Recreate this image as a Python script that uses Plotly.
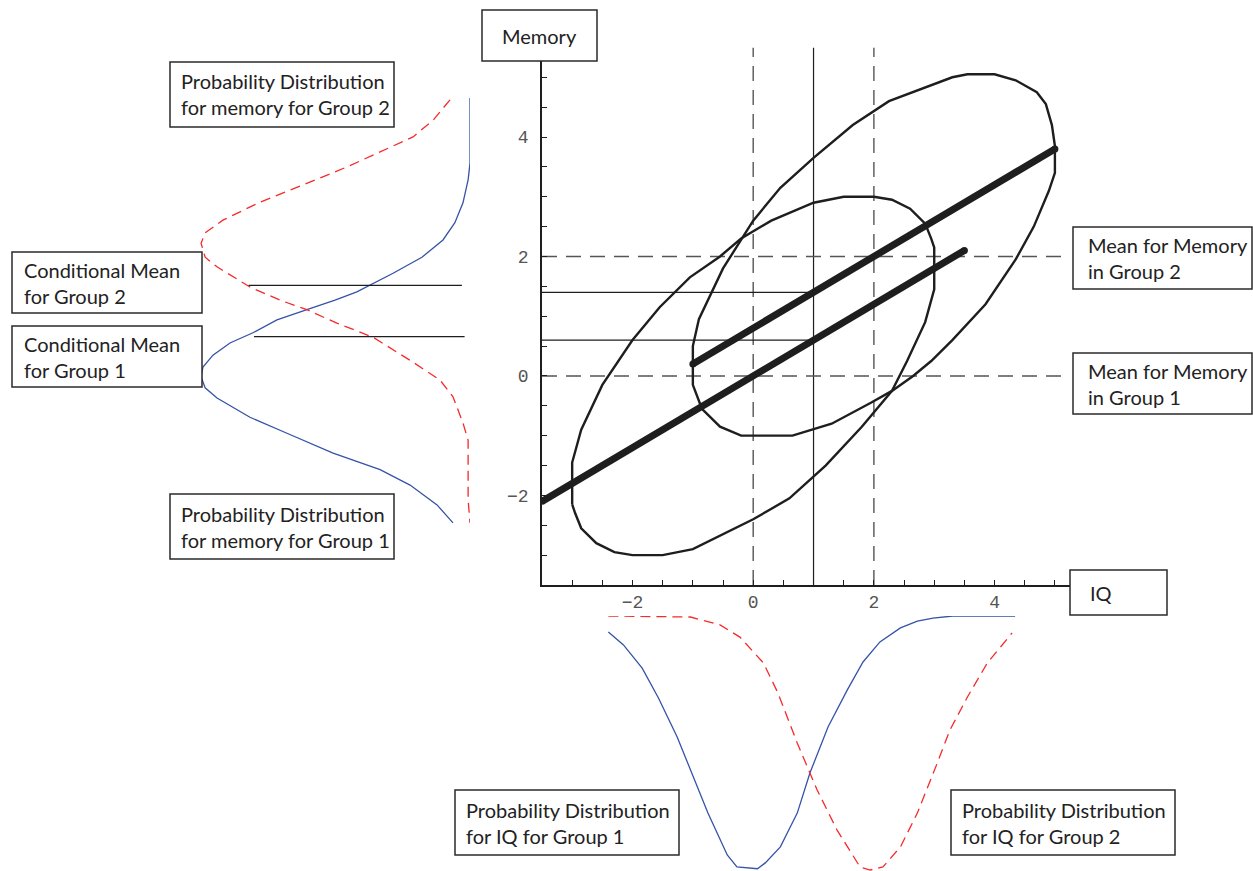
import plotly.graph_objects as go

W, H = 1253, 871

# group means, regression line, conditional means
iq_means = [0, 2]
memory_means = [0, 2]
iq_given = 1
cond_means = [0.6, 1.4]

# regression lines (IQ start/end, memory start/end)
reg1_iq = [-3.5, 3.5]
reg1_mem = [-2.1, 2.1]
reg2_iq = [-1.0, 5.0]
reg2_mem = [0.2, 3.8]

# contour of group 1 (centred on 0,0)
g1_iq = [-3.0, -3.0, -2.85, -2.5, -2.0, -1.55, -1.05, -0.55, -0.2, 0.3, 1.0, 1.5, 2.0, 2.3,
         2.6, 2.85, 2.95, 3.0, 3.0, 2.85, 2.55, 2.3, 1.8, 1.2, 0.6, 0.0, -1.0, -1.5, -2.0,
         -2.3, -2.6, -2.85, -2.95, -3.0]
g1_mem = [-2.15, -1.45, -0.9, -0.15, 0.6, 1.15, 1.65, 2.0, 2.3, 2.6, 2.9, 3.0, 3.0, 2.95,
          2.8, 2.55, 2.3, 2.15, 1.45, 0.9, 0.25, -0.25, -0.85, -1.5, -2.05, -2.4, -2.9, -3.0,
          -3.0, -2.95, -2.8, -2.55, -2.3, -2.15]

# contour of group 2 (centred on 2,2)
g2_iq = [-1.0, -1.0, -0.9, -0.5, 0.0, 0.45, 1.0, 1.65, 2.25, 2.9, 3.3, 3.55, 4.0, 4.35,
         4.7, 4.85, 4.95, 5.0, 5.0, 4.9, 4.65, 4.35, 3.85, 3.3, 2.95, 2.65, 2.3, 1.95, 1.3,
         0.65, 0.1, -0.2, -0.55, -0.85, -1.0]
g2_mem = [-0.15, 0.5, 0.95, 1.8, 2.6, 3.15, 3.65, 4.2, 4.6, 4.85, 5.0, 5.05, 5.05, 4.95,
          4.75, 4.55, 4.2, 3.85, 3.4, 3.1, 2.5, 1.95, 1.2, 0.6, 0.25, 0.0, -0.25, -0.45, -0.8,
          -1.0, -1.0, -1.0, -0.85, -0.55, -0.15]

# memory densities (left panel): density, memory
mem_g1_dens = [0, 0, 0.007, 0.026, 0.056, 0.1, 0.178, 0.285, 0.419, 0.5, 0.604, 0.715, 0.804,
               0.889, 0.952, 0.989, 0.996, 0.981, 0.937, 0.815, 0.678, 0.507, 0.333, 0.222,
               0.122, 0.063]
mem_g1_val = [4.33, 3.31, 3.05, 2.69, 2.38, 2.11, 1.84, 1.59, 1.3, 1.17, 1.02, 0.86, 0.66, 0.5,
              0.31, 0.125, -0.03, -0.2, -0.36, -0.66, -0.91, -1.22, -1.48, -1.72, -2.03, -2.31]
mem_g2_dens = [0.074, 0.137, 0.211, 0.315, 0.456, 0.619, 0.778, 0.915, 0.981, 0.996, 0.981,
               0.937, 0.815, 0.704, 0.604, 0.493, 0.359, 0.211, 0.111, 0.063, 0.026, 0.007,
               0.007, 0]
mem_g2_val = [4.3, 3.98, 3.72, 3.52, 3.25, 2.97, 2.7, 2.42, 2.22, 2.06, 1.84, 1.69, 1.375, 1.17,
              1.02, 0.81, 0.59, 0.2, -0.08, -0.34, -0.75, -1.02, -1.95, -2.31]
cond_line_dens = [[0.80, 0.02], [0.82, 0.03]]

# IQ densities (bottom panel): IQ, density
iq_g1_val = [-2.4, -2.15, -1.84, -1.57, -1.26, -1.04, -0.75, -0.43, -0.27, 0.07, 0.2, 0.45,
             0.73, 0.94, 1.24, 1.56, 1.82, 2.1, 2.44, 2.72, 2.98, 3.31, 4.34]
iq_g1_dens = [0.063, 0.114, 0.205, 0.323, 0.476, 0.606, 0.776, 0.941, 0.988, 0.995, 0.972,
              0.909, 0.776, 0.618, 0.437, 0.291, 0.181, 0.102, 0.047, 0.02, 0.008, 0, 0]
iq_g2_val = [-2.4, -1.04, -0.55, -0.22, 0.17, 0.41, 0.73, 1.06, 1.39, 1.77, 1.94, 2.15, 2.44,
             2.72, 3.05, 3.26, 3.55, 3.88, 4.29]
iq_g2_dens = [0, 0.004, 0.035, 0.083, 0.185, 0.303, 0.5, 0.685, 0.843, 0.988, 1.0, 0.988,
              0.909, 0.776, 0.579, 0.449, 0.319, 0.185, 0.067]

# text boxes: x0, y0, x1, y1 (px), text x (px), text
boxes = [
    (482, 10, 597, 61, 500, "Memory"),
    (170, 62, 394, 127, 179, "Probability Distribution<br>for memory for Group 2"),
    (12, 252, 202, 313, 22, "Conditional Mean<br>for Group 2"),
    (12, 326, 202, 387, 22, "Conditional Mean<br>for Group 1"),
    (170, 494, 394, 559, 179, "Probability Distribution<br>for memory for Group 1"),
    (1073, 227, 1252, 289, 1086, "Mean for Memory<br>in Group 2"),
    (1073, 353, 1252, 414, 1086, "Mean for Memory<br>in Group 1"),
    (1070, 570, 1167, 615, 1088, "IQ"),
    (455, 790, 679, 855, 464, "Probability Distribution<br>for IQ for Group 1"),
    (951, 790, 1175, 855, 960, "Probability Distribution<br>for IQ for Group 2"),
]

BLUE = "#3553a8"
RED = "#f52a2a"
INK = "#1e1e1e"
GREY_DASH = "#555555"

fig = go.Figure()

# reference lines in the main panel
for v in iq_means:
    fig.add_trace(go.Scatter(x=[v, v], y=[-3.5, 5.5], mode="lines",
                             line=dict(color=GREY_DASH, width=1.4, dash="15px,9px")))
fig.add_trace(go.Scatter(x=[iq_given, iq_given], y=[-3.5, 5.5], mode="lines",
                         line=dict(color=INK, width=1.2)))
for v in memory_means:
    fig.add_trace(go.Scatter(x=[-3.5, 5.25], y=[v, v], mode="lines",
                             line=dict(color=GREY_DASH, width=1.4, dash="15px,9px")))
for v in cond_means:
    fig.add_trace(go.Scatter(x=[-3.5, iq_given], y=[v, v], mode="lines",
                             line=dict(color=INK, width=1.2)))

# contours
fig.add_trace(go.Scatter(x=g1_iq, y=g1_mem, mode="lines", line=dict(color=INK, width=2.4)))
fig.add_trace(go.Scatter(x=g2_iq, y=g2_mem, mode="lines", line=dict(color=INK, width=2.4)))

# regression lines
for xs, ys in [(reg1_iq, reg1_mem), (reg2_iq, reg2_mem)]:
    fig.add_trace(go.Scatter(x=xs, y=ys, mode="lines+markers",
                             line=dict(color=INK, width=7),
                             marker=dict(color=INK, size=7)))

# left panel
fig.add_trace(go.Scatter(x=mem_g1_dens, y=mem_g1_val, mode="lines", xaxis="x2", yaxis="y2",
                         line=dict(color=BLUE, width=1.3)))
fig.add_trace(go.Scatter(x=mem_g2_dens, y=mem_g2_val, mode="lines", xaxis="x2", yaxis="y2",
                         line=dict(color=RED, width=1.3, dash="10px,6px")))
for xs, v in zip(cond_line_dens, cond_means):
    fig.add_trace(go.Scatter(x=xs, y=[v, v], mode="lines", xaxis="x2", yaxis="y2",
                             line=dict(color=INK, width=1.2)))

# bottom panel
fig.add_trace(go.Scatter(x=iq_g1_val, y=iq_g1_dens, mode="lines", yaxis="y3",
                         line=dict(color=BLUE, width=1.3)))
fig.add_trace(go.Scatter(x=iq_g2_val, y=iq_g2_dens, mode="lines", yaxis="y3",
                         line=dict(color=RED, width=1.3, dash="10px,6px")))

shapes = []
annotations = []
for x0, y0, x1, y1, tx, text in boxes:
    shapes.append(dict(type="rect", xref="paper", yref="paper",
                       x0=x0 / W, x1=x1 / W, y0=1 - y0 / H, y1=1 - y1 / H,
                       line=dict(color="#2a2a2a", width=1.5), fillcolor="white",
                       layer="above"))
    annotations.append(dict(xref="paper", yref="paper", x=tx / W,
                            y=1 - (y0 + y1) / 2 / H, xanchor="left", yanchor="middle",
                            align="left", showarrow=False, text=text,
                            font=dict(family="Lato", size=20, color="#222222")))

tick_font = dict(family="Liberation Mono", size=18, color="#555555")
fig.update_layout(
    width=W, height=H,
    margin=dict(l=0, r=0, t=0, b=0),
    paper_bgcolor="white", plot_bgcolor="white",
    showlegend=False,
    shapes=shapes, annotations=annotations,
    xaxis=dict(domain=[542 / W, 1070 / W], range=[-3.5, 5.25], anchor="y",
               showgrid=False, zeroline=False, showline=True, linecolor=INK, linewidth=1.5,
               ticks="inside", ticklen=5, tickwidth=1.2, tickcolor=INK,
               tick0=0, dtick=2, tickfont=tick_font,
               minor=dict(dtick=0.5, ticks="inside", ticklen=5, tickwidth=1.2,
                          tickcolor=INK, showgrid=False)),
    yaxis=dict(domain=[1 - 585 / H, 1 - 47.4 / H], range=[-3.5, 5.5], anchor="x",
               showgrid=False, zeroline=False, showline=True, linecolor=INK, linewidth=1.5,
               ticks="inside", ticklen=5, tickwidth=1.2, tickcolor=INK,
               tick0=0, dtick=2, tickfont=tick_font, ticklabelstandoff=8,
               minor=dict(dtick=0.5, ticks="inside", ticklen=5, tickwidth=1.2,
                          tickcolor=INK, showgrid=False)),
    xaxis2=dict(domain=[200 / W, 470 / W], range=[1, 0], anchor="y2", visible=False),
    yaxis2=dict(domain=[1 - 525 / H, 1 - 95 / H], range=[-150 / 64, 280 / 64],
                anchor="x2", visible=False),
    yaxis3=dict(domain=[0, 1 - 616 / H], range=[255 / 254, 0], anchor="x", visible=False),
)

# drop the default page margin so the figure sits at the window origin
fig.write_html("out.html", config={"displayModeBar": False},
               post_script="document.body.style.margin = '0';")
